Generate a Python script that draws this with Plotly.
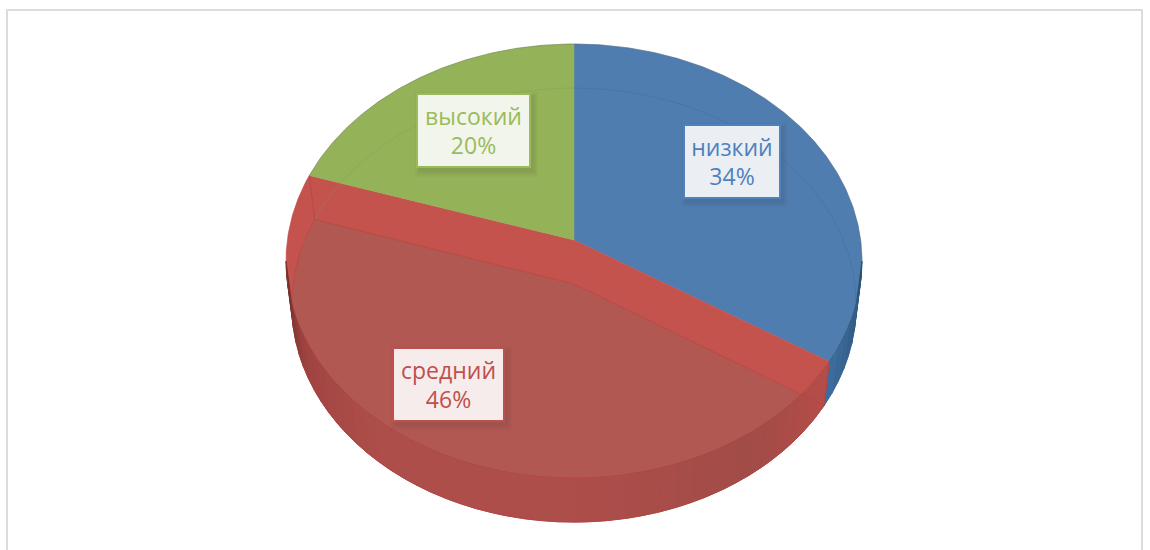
import numpy as np
import plotly.graph_objects as go

# данные
categories = ['низкий', 'средний', 'высокий']
shares = [34, 46, 20]

text_colors = ['#4f81bd', '#c0504d', '#9bbb59']
top_colors = ['#507db0', '#c3534c', '#94b258']
floor_red = '#b25853'

# the disk is a circle seen in perspective, drawn in pixel-like axis units
CX, CY = 574, 240
AX, AY, K = 286.6, 215, 0.097
DEPTH = 44
FLOOR_SCALE = 0.98  # lower face is a bit narrower


def disk(theta, dy=0, sx=1.0):
    # theta in degrees clockwise from 12 o'clock
    t = np.radians(theta)
    u, v = np.sin(t), np.cos(t)
    w = 1 + K * v
    return CX + sx * AX * u / w, CY - AY * v / w + dy


def arc(a, b, dy=0, sx=1.0):
    th = np.linspace(a, b, max(int(abs(b - a) * 2), 2))
    return disk(th, dy, sx)


def wedge(a, b, dy=0, sx=1.0):
    x, y = arc(a, b, dy, sx)
    return [CX, *x, CX], [CY + dy, *y, CY + dy]


def poly(fig, x, y, color, line=1):
    fig.add_trace(go.Scatter(x=x, y=y, mode='lines', fill='toself', fillcolor=color,
                             line=dict(color=color, width=line), hoverinfo='skip'))


def mix(c1, c2, f):
    return 'rgb(%d,%d,%d)' % tuple(c1[i] + (c2[i] - c1[i]) * f for i in range(3))


edges = np.cumsum([0] + shares) / sum(shares) * 360

fig = go.Figure()

# upper face
for i in range(3):
    x, y = wedge(edges[i], edges[i + 1])
    poly(fig, x, y, top_colors[i], 0.5)

# lower face seen through the glass, only the red one shows as a fill
x, y = wedge(edges[1], edges[2], DEPTH, FLOOR_SCALE)
poly(fig, x, y, floor_red, 0.5)

# side wall, shaded step by step
wall_stops = [
    (95.6, (40, 78, 115)), (122.4, (62, 110, 160)),
    (122.4, (182, 76, 72)), (130, (176, 76, 72)), (145, (162, 76, 72)),
    (180, (174, 78, 75)), (220, (174, 78, 75)), (245, (160, 68, 65)), (264.4, (105, 48, 46)),
]
for (a, ca), (b, cb) in zip(wall_stops[:-1], wall_stops[1:]):
    if a == b:
        continue
    steps = max(int((b - a) / 3), 1)
    for s in range(steps):
        a0 = a + (b - a) * s / steps
        b0 = a + (b - a) * (s + 1) / steps
        xt, yt = arc(a0, b0)
        xb, yb = arc(b0, a0, DEPTH, FLOOR_SCALE)
        poly(fig, [*xt, *xb, xt[0]], [*yt, *yb, yt[0]], mix(ca, cb, (s + 0.5) / steps))

# faint outlines of the lower face
faint = ['rgba(60,105,160,0.4)', 'rgba(190,60,60,0.4)', 'rgba(125,160,75,0.35)']
for i in range(3):
    if i == 1:
        xa, ya = wedge(edges[i], edges[i + 1], DEPTH, FLOOR_SCALE)
    else:
        xa, ya = arc(edges[i], edges[i + 1], DEPTH, FLOOR_SCALE)
    fig.add_trace(go.Scatter(x=xa, y=ya, mode='lines', hoverinfo='skip',
                             line=dict(color=faint[i], width=1)))

# seams that join the two faces
for th in [edges[1], edges[2]]:
    xt, yt = disk(np.array([th]))
    xb, yb = disk(np.array([th]), DEPTH, FLOOR_SCALE)
    fig.add_trace(go.Scatter(x=[xt[0], xb[0]], y=[yt[0], yb[0]], mode='lines', hoverinfo='skip',
                             line=dict(color='rgba(170,60,55,0.45)', width=1)))

# rim of the upper face
for i in range(3):
    xa, ya = arc(edges[i], edges[i + 1])
    fig.add_trace(go.Scatter(x=xa, y=ya, mode='lines', hoverinfo='skip',
                             line=dict(color='rgba(190,60,60,0.3)' if i == 1 else 'rgba(80,80,80,0.3)', width=1)))

# labels
label_xy = [(731.5, 161), (448.5, 384), (473.5, 130.5)]
label_w = [94, 109, 111]
for i, (lx, ly) in enumerate(label_xy):
    w = label_w[i]
    # soft shadow from a few stacked rectangles
    for grow in [6, 4, 2]:
        fig.add_shape(type='rect', x0=lx - w / 2 - grow + 3, x1=lx + w / 2 + grow + 3,
                      y0=ly - 36 - grow + 4, y1=ly + 36 + grow + 4,
                      fillcolor='rgba(40,40,40,0.045)', line_width=0, layer='above')
    fig.add_annotation(x=lx, y=ly, text=f'{categories[i]}<br>{shares[i]}%', showarrow=False,
                       width=w, height=71, align='center', valign='middle',
                       font=dict(family='Open Sans', size=23, color=text_colors[i]),
                       bgcolor='rgba(255,255,255,0.89)', bordercolor=text_colors[i], borderwidth=2, borderpad=0)

# chart frame
fig.add_shape(type='rect', x0=7, x1=1142, y0=10, y1=570, line=dict(color='#dcdcdc', width=2), layer='below')

fig.update_layout(
    width=1150, height=550, margin=dict(l=0, r=0, t=0, b=0),
    showlegend=False, paper_bgcolor='white', plot_bgcolor='white',
    xaxis=dict(range=[0, 1150], visible=False, fixedrange=True),
    yaxis=dict(range=[550, 0], visible=False, fixedrange=True),
)
fig.write_html("out.html", post_script="document.body.style.margin='0';", config={'displayModeBar': False})
